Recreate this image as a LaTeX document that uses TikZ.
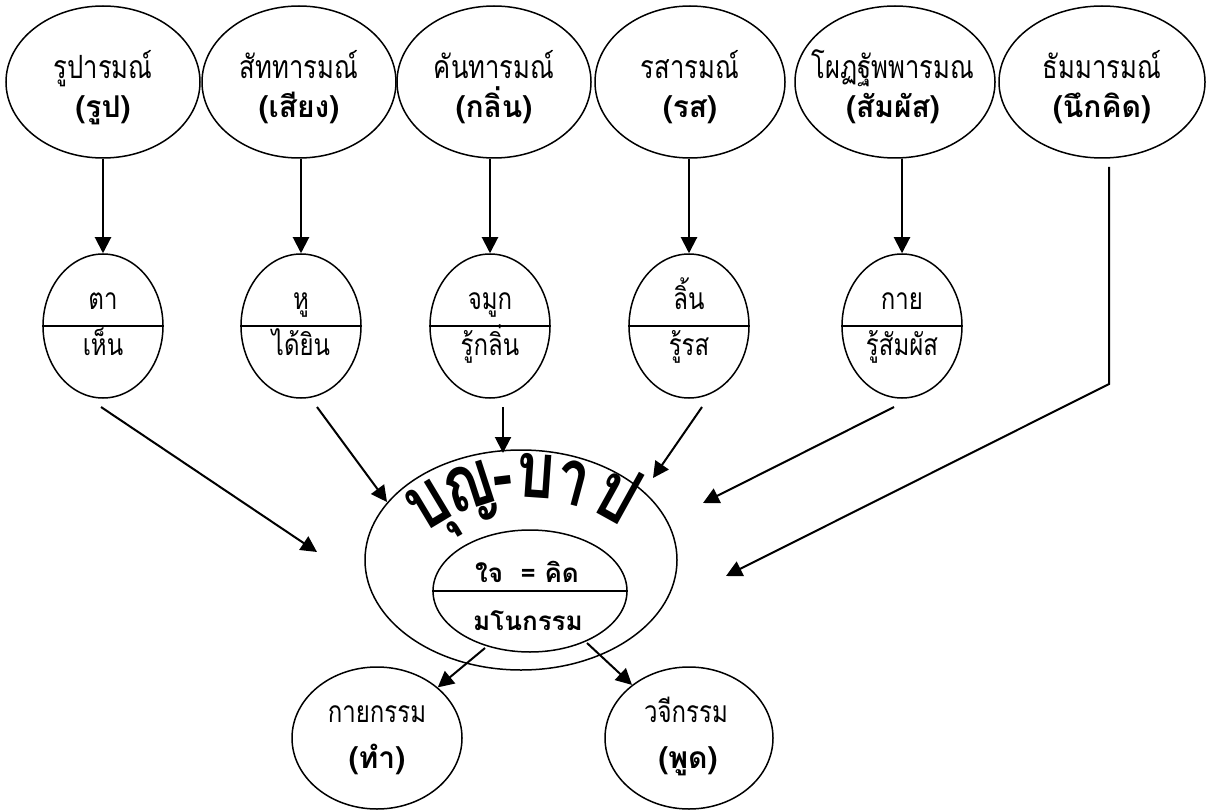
\documentclass[tikz,border=0pt]{standalone}
\usepackage{fontspec}
\usetikzlibrary{shapes.geometric,arrows.meta}
\newfontfamily\thai[Script=Thai,FakeStretch=0.8]{Loma}
\newfontfamily\thaibf[Script=Thai]{Loma}
\newfontfamily\thaititle[Script=Thai,FakeStretch=0.76]{Loma}
\tikzset{
  ell/.style={draw,ellipse,line width=1.5pt,inner sep=0pt},
  topell/.style={ell,minimum width=194pt,minimum height=152pt},
  sense/.style={ell,minimum width=120pt,minimum height=144pt},
  actell/.style={ell,minimum width=170pt,minimum height=142pt},
  txt/.style={anchor=base,inner sep=0pt,font=\thai\fontsize{30}{30}\selectfont},
  toptxt/.style={anchor=base,inner sep=0pt,font=\thai\fontsize{32}{32}\selectfont},
  boldtxt/.style={anchor=base,inner sep=0pt,font=\thaibf\bfseries\fontsize{30}{30}\selectfont},
  midtxt/.style={anchor=base,inner sep=0pt,font=\thaibf\bfseries\fontsize{26}{26}\selectfont},
  glyph/.style={anchor=base,inner sep=0pt,font=\thaititle\bfseries\fontsize{78}{78}\selectfont},
  arr/.style={line width=2pt,-{Triangle[length=16pt,width=16pt]}},
  divider/.style={line width=1.5pt},
}
\begin{document}
\begin{tikzpicture}[x=1pt,y=-1pt]
\useasboundingbox (0,0) rectangle (1206,810);

% top ellipses
\node[topell] (t1) at (103,82) {};
\node[topell] (t2) at (299,82) {};
\node[topell] (t3) at (494,82) {};
\node[topell,minimum width=190pt] (t4) at (690,82) {};
\node[topell,minimum width=200pt] (t5) at (895,82) {};
\node[topell,minimum width=206pt] (t6) at (1102,82) {};

\node[toptxt] (t1a) at (103,79) {รูปารมณ์};
\node[boldtxt] (t1b) at (103,118) {(รูป)};
\node[toptxt] (t2a) at (299,79) {สัททารมณ์};
\node[boldtxt] (t2b) at (299,118) {(เสียง)};
\node[toptxt] (t3a) at (494,79) {คันทารมณ์};
\node[boldtxt] (t3b) at (494,118) {(กลิ่น)};
\node[toptxt] (t4a) at (690,79) {รสารมณ์};
\node[boldtxt] (t4b) at (690,118) {(รส)};
\node[toptxt] (t5a) at (893,79) {โผฏฐัพพารมณ};
\node[boldtxt] (t5b) at (893,118) {(สัมผัส)};
\node[toptxt] (t6a) at (1102,79) {ธัมมารมณ์};
\node[boldtxt] (t6b) at (1102,118) {(นึกคิด)};

% sense ellipses
\foreach \n/\x/\up/\lo in {1/103/ตา/เห็น,2/301/หู/ได้ยิน,3/490/จมูก/รู้กลิ่น,4/689/ลิ้น/รู้รส,5/902/กาย/รู้สัมผัส}{
  \node[sense] (s\n) at (\x,326) {};
  \draw[divider] (s\n.west) -- (s\n.east);
  \node[txt] (s\n a) at (\x,309) {\up};
  \node[txt] (s\n b) at (\x,355) {\lo};
}

% arrows top -> sense
\foreach \n in {1,...,5}{
  \draw[arr] (s\n.north |- t\n.south) -- (s\n.north);
}

% center
\node[ell,minimum width=312pt,minimum height=220pt] (mind) at (521,560) {};
\node[ell,minimum width=194pt,minimum height=122pt] (inner) at (530,591) {};
\draw[divider] (inner.west) -- (inner.east);
\node[midtxt] (in1) at (527,582) {ใจ\ \ = คิด};
\node[midtxt] (in2) at (528,630) {มโนกรรม};

% curved title
\node[glyph,rotate=31] (g1) at (440,524) {บุ};
\node[glyph,rotate=18] (g2) at (476,508) {ญ};
\node[glyph,rotate=7] (g3) at (505,500) {-};
\node[glyph,rotate=-4] (g4) at (534,498) {บ};
\node[glyph,rotate=-15] (g5) at (567,504) {า};
\node[glyph,rotate=-29] (g6) at (605,518) {ป};

% inflow arrows
\coordinate (a1) at (101,407); \coordinate (b1) at (317,552);
\coordinate (a2) at (317,407); \coordinate (b2) at (387,502);
\coordinate (a3) at (503,407); \coordinate (b3) at (503,453);
\coordinate (a4) at (702,407); \coordinate (b4) at (653,478);
\coordinate (a5) at (894,407); \coordinate (b5) at (703,503);
\coordinate (a6) at (1109,167); \coordinate (k6) at (1109,384); \coordinate (b6) at (726,576);
\foreach \n in {1,...,5}{ \draw[arr] (a\n) -- (b\n); }
\draw[arr,line join=miter] (a6) -- (k6) -- (b6);

% action ellipses
\node[actell] (body) at (377,738) {};
\node[actell,minimum width=168pt] (speech) at (689,738) {};
\node[txt] (body1) at (377,722) {กายกรรม};
\node[boldtxt] (body2) at (377,768) {(ทำ)};
\node[txt] (sp1) at (686,722) {วจีกรรม};
\node[boldtxt] (sp2) at (688,768) {(พูด)};

\coordinate (c1) at (485,648); \coordinate (c2) at (587,643);
\draw[arr] (c1) -- (body);
\draw[arr] (c2) -- (speech);
\end{tikzpicture}
\end{document}
